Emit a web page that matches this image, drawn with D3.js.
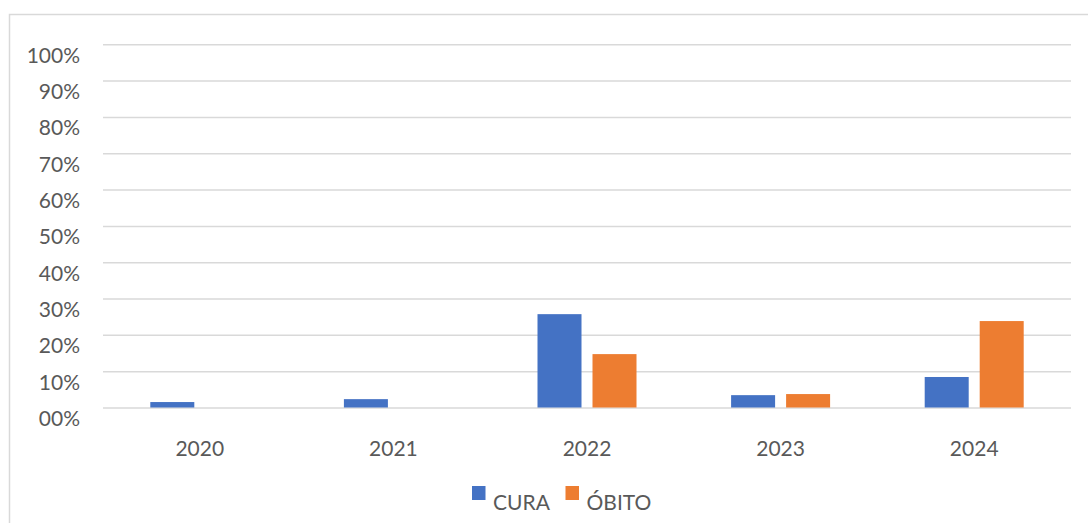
<!DOCTYPE html>
<html>
<head>
<meta charset="utf-8">
<script src="https://cdn.jsdelivr.net/npm/d3@7"></script>
<style>
  html, body { margin: 0; padding: 0; background: #fff; }
  svg { display: block; }
  text { font-family: Lato, "Open Sans", sans-serif; fill: #595959; }
</style>
</head>
<body>
<svg id="chart" width="1088" height="523"></svg>
<script>
const categories = ["2020", "2021", "2022", "2023", "2024"];
const seriesNames = ["CURA", "ÓBITO"];
const curaValues = [0.015, 0.023, 0.257, 0.034, 0.084];
const obitoValues = [0, 0, 0.147, 0.037, 0.238];
const seriesColors = ["#4472C4", "#ED7D31"];
const tickValues = [0, 0.1, 0.2, 0.3, 0.4, 0.5, 0.6, 0.7, 0.8, 0.9, 1.0];
const tickLabels = ["00%", "10%", "20%", "30%", "40%", "50%", "60%", "70%", "80%", "90%", "100%"];

const seriesValues = [curaValues, obitoValues];

const svg = d3.select("#chart");

// chart area border (extends past the right / bottom edges)
svg.append("rect")
  .attr("x", 9.5).attr("y", 14.5)
  .attr("width", 1200).attr("height", 700)
  .attr("fill", "none")
  .attr("stroke", "#d9d9d9")
  .attr("stroke-width", 1.5);

const x = d3.scaleBand().domain(categories).range([103, 1071]).paddingInner(0).paddingOuter(0);
const xInner = d3.scaleBand().domain(seriesNames).range([0, x.bandwidth()]).paddingInner(0.2).paddingOuter(0.86);
const y = d3.scaleLinear().domain([0, 1]).range([407.5, 44.3]);

// gridlines
const yAxis = d3.axisLeft(y)
  .tickValues(tickValues)
  .tickSize(-(1071 - 103))
  .tickFormat((d, i) => tickLabels[i]);

const gy = svg.append("g").attr("transform", "translate(103,0)").call(yAxis);
gy.select(".domain").remove();
gy.selectAll(".tick line").attr("stroke", "#d9d9d9").attr("stroke-width", 1.5);
gy.selectAll(".tick text")
  .attr("x", -23)
  .attr("dy", "0.85em")
  .attr("text-anchor", "end")
  .style("font-size", "21px")
  .style("font-family", "Lato, 'Open Sans', sans-serif")
  .attr("fill", "#595959");

// bars
const groups = svg.append("g").selectAll("g")
  .data(categories)
  .join("g")
  .attr("transform", d => `translate(${x(d)},0)`);

groups.selectAll("rect")
  .data((d, ci) => seriesNames.map((s, si) => ({ s, si, v: seriesValues[si][ci] })))
  .join("rect")
  .attr("x", d => xInner(d.s))
  .attr("width", xInner.bandwidth())
  .attr("y", d => y(d.v))
  .attr("height", d => y(0) - y(d.v))
  .attr("fill", d => seriesColors[d.si]);

// x axis labels
const xAxis = d3.axisBottom(x).tickSize(0);
const gx = svg.append("g").attr("transform", `translate(0,${y(0)})`).call(xAxis);
gx.select(".domain").remove();
gx.selectAll(".tick text")
  .attr("y", 48)
  .attr("dy", 0)
  .style("font-size", "21px")
  .style("font-family", "Lato, 'Open Sans', sans-serif")
  .attr("fill", "#595959");

// legend
const legendX = [472, 565.5];
const legend = svg.append("g").selectAll("g")
  .data(seriesNames)
  .join("g")
  .attr("transform", (d, i) => `translate(${legendX[i]},486)`);
legend.append("rect")
  .attr("width", 13.5).attr("height", 14)
  .attr("fill", (d, i) => seriesColors[i]);
legend.append("text")
  .attr("x", 21)
  .attr("y", 24)
  .style("font-size", "21px")
  .text(d => d);
</script>
</body>
</html>
